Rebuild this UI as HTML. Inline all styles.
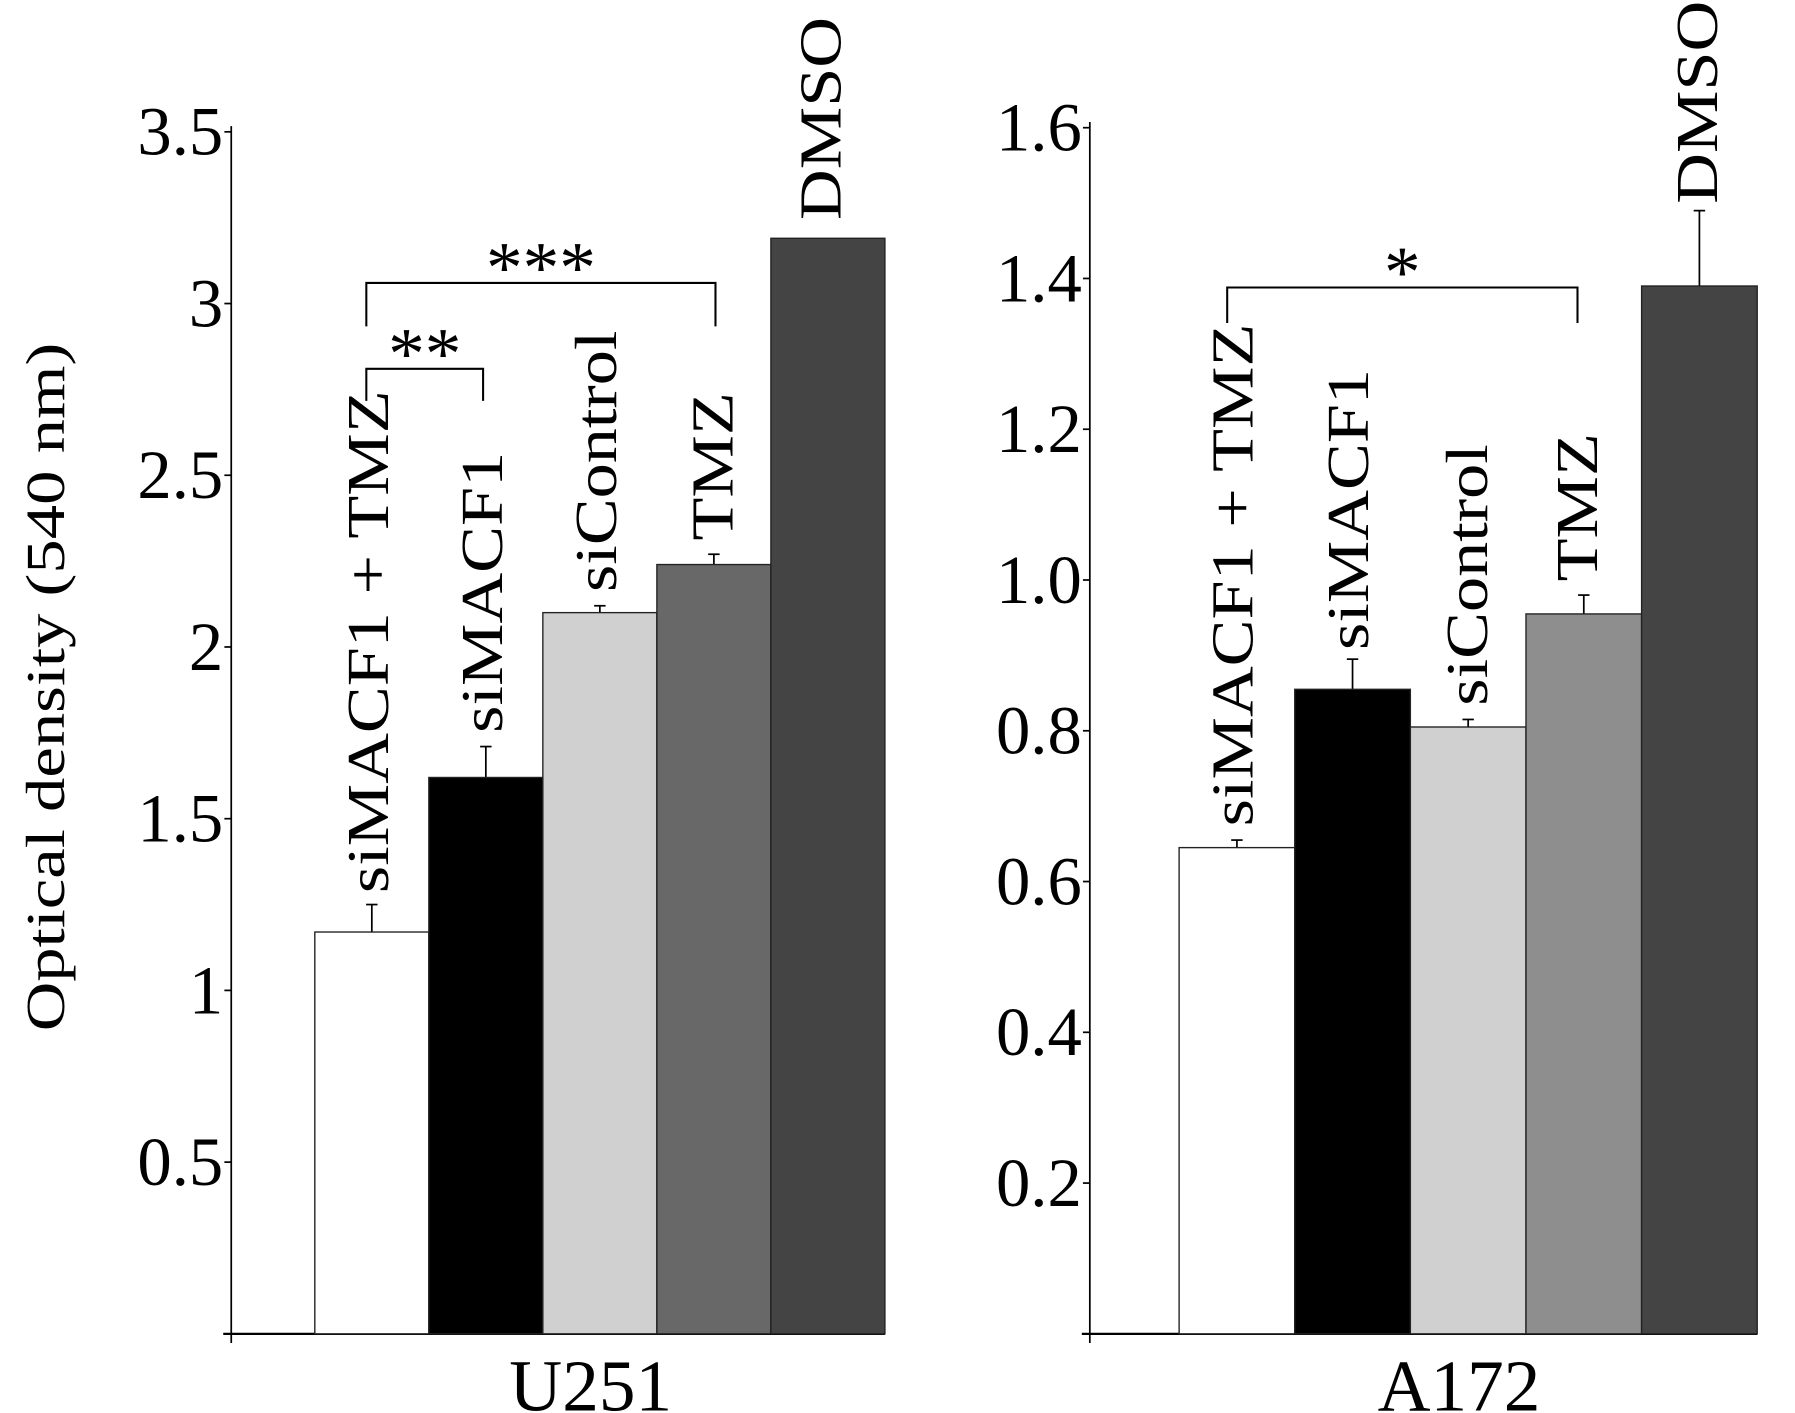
<!DOCTYPE html>
<html><head><meta charset="utf-8"><style>
html,body{margin:0;padding:0;background:#fff;}
svg{display:block;font-family:"Liberation Serif",serif;}
</style></head><body>
<svg id="chart" width="1795" height="1413" viewBox="0 0 1568 1234" xmlns="http://www.w3.org/2000/svg">
<text transform="translate(56,600) rotate(-90) scale(1.25,1)" text-anchor="middle" font-size="48">Optical density (540 nm)</text>
<g id="left"></g>
<g id="right"></g>
</svg>
<script>
const categories = ["siMACF1 + TMZ","siMACF1","siControl","TMZ","DMSO"];
const u251Values = [1.17,1.62,2.10,2.24,3.19];
const u251Errors = [0.08,0.09,0.02,0.03,0];
const u251Ticks = ["0.5","1","1.5","2","2.5","3","3.5"];
const a172Values = [0.645,0.855,0.805,0.955,1.39];
const a172Errors = [0.01,0.04,0.01,0.025,0.10];
const a172Ticks = ["0.2","0.4","0.6","0.8","1.0","1.2","1.4","1.6"];
const NS="http://www.w3.org/2000/svg";
function mk(p,t,a){const e=document.createElementNS(NS,t);for(const k in a)e.setAttribute(k,a[k]);p.appendChild(e);return e;}
function panel(g,o){
  const y=v=>1165-v*o.ppu;
  const ax=mk(g,'line',{x1:o.ax,y1:y(o.max)-5,x2:o.ax,y2:1173,stroke:'#000','stroke-width':1.5});
  
  
  const xl=mk(g,'line',{x1:o.ax-7,y1:1165,x2:o.x0+5*o.bw,y2:1165,stroke:'#000','stroke-width':2});
  
  
  o.ticks.forEach(t=>{const v=parseFloat(t);
    mk(g,'line',{x1:o.ax-6,y1:y(v),x2:o.ax,y2:y(v),stroke:'#000','stroke-width':1.5});
    const tx=mk(g,'text',{x:o.ax-7,y:y(v)+20,'text-anchor':'end','font-size':60});
    
    
    tx.textContent=t;});
  o.vals.forEach((v,i)=>{const x=o.x0+i*o.bw;
    const top=v+o.errs[i];
    if(o.errs[i]>0){mk(g,'line',{x1:x+o.bw/2,y1:y(v),x2:x+o.bw/2,y2:y(top),stroke:'#000','stroke-width':1.5});
      mk(g,'line',{x1:x+o.bw/2-5,y1:y(top),x2:x+o.bw/2+5,y2:y(top),stroke:'#000','stroke-width':1.5});}
    const r=mk(g,'rect',{x:x,y:y(v),width:o.bw,height:y(0)-y(v),fill:o.cols[i],stroke:'#222','stroke-width':1.2});
    
    
    const lx=x+o.lxo[i], ly=y(top)-o.gap[i];
    const t=mk(g,'text',{transform:`translate(${lx},${ly}) rotate(-90) scale(1.18,1)`,'font-size':52,'text-anchor':'start'});
    
    
    t.textContent=categories[i];});
  const c=mk(g,'text',{x:o.x0+2.5*o.bw-8,y:1232,'text-anchor':'middle','font-size':64});
  
  
  c.textContent=o.name;
  o.br.forEach(b=>{
    const p=mk(g,'path',{d:`M${b[0]},${b[3]} V${b[2]} H${b[1]} V${b[4]}`,fill:'none',stroke:'#000','stroke-width':1.8});
    
    
    const s=mk(g,'text',{x:(b[0]+b[1])/2,y:b[2]+8,'text-anchor':'middle','font-size':64});
    
    
    s.textContent=b[5];});
}
panel(document.getElementById('left'),{ax:202,ppu:300,max:3.5,x0:275,bw:99.6,vals:u251Values,errs:u251Errors,ticks:u251Ticks,
  cols:['#fff','#000','#d0d0d0','#686868','#444'],lxo:[64,64,64,66,61],gap:[10,12,12,12,16],name:'U251',
  br:[[320,625,247,285,285,'***'],[320,422,322,350,350,'**']]});
panel(document.getElementById('right'),{ax:952,ppu:658.5,max:1.6,x0:1030,bw:101,vals:a172Values,errs:a172Errors,ticks:a172Ticks,
  cols:['#fff','#000','#d0d0d0','#8e8e8e','#444'],lxo:[64,64,67,62,66],gap:[12,8,12,12,6],name:'A172',
  br:[[1072,1378,251,282,282,'*']]});
</script>
</body></html>
